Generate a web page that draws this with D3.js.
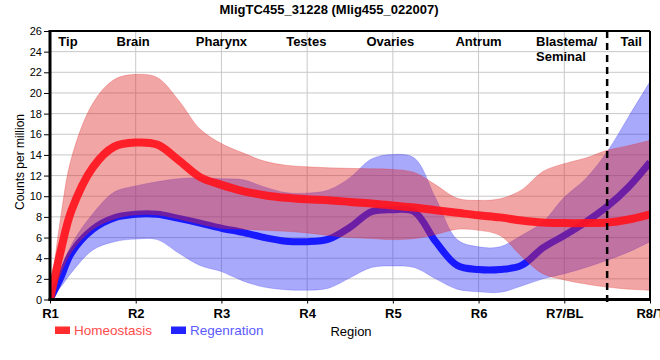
<!DOCTYPE html>
<html>
<head>
<meta charset="utf-8">
<script src="https://cdn.jsdelivr.net/npm/d3@7"></script>
<style>
  html, body { margin: 0; padding: 0; background: #fff; }
  svg { display: block; font-family: "Liberation Sans", Arial, sans-serif; }
</style>
</head>
<body>
<svg id="chart" width="660" height="360"></svg>
<script>
// ---- Data ----
const title = "MligTC455_31228 (Mlig455_022007)";
const xLabels = ["R1", "R2", "R3", "R4", "R5", "R6", "R7/BL", "R8/T"];
const regionNames = ["Tip", "Brain", "Pharynx", "Testes", "Ovaries", "Antrum", "Blastema/|Seminal", "Tail"];
const regionPos = [1.21, 1.97, 3.0, 3.99, 4.97, 6.0, 6.85, 7.78];
const yTicks = [0, 2, 4, 6, 8, 10, 12, 14, 16, 18, 20, 22, 24, 26];
const seriesNames = ["Homeostasis", "Regenration"];

// sample positions along region axis (1 = R1 ... 8 = R8/T)
const pos = [1, 1.125, 1.25, 1.5, 1.75, 2, 2.25, 2.5, 2.75, 3, 3.25, 3.5, 3.75, 4, 4.25, 4.5, 4.75,
             5, 5.25, 5.5, 5.75, 6, 6.25, 6.5, 6.75, 7, 7.25, 7.5, 7.75, 8];

const homeoMean = [0, 4.7, 8.6, 12.8, 14.8, 15.2, 15.0, 13.5, 11.85, 11.1, 10.5, 10.1, 9.85, 9.7, 9.6, 9.45, 9.3,
                   9.1, 8.9, 8.65, 8.4, 8.15, 7.95, 7.65, 7.45, 7.4, 7.4, 7.45, 7.75, 8.25];
const homeoUpper = [0, 8.0, 13.7, 19.0, 21.3, 21.8, 21.5, 19.3, 16.5, 15.1, 14.2, 13.4, 13.0, 12.85, 12.75, 12.7, 12.65,
                    12.6, 12.3, 11.1, 9.8, 9.6, 9.75, 10.6, 12.4, 13.15, 13.7, 14.45, 14.9, 15.4];
const homeoLower = [0, 2.5, 4.6, 6.8, 7.8, 8.2, 8.2, 7.8, 7.3, 6.9, 6.8, 6.7, 6.6, 6.45, 6.2, 6.0, 5.9,
                    5.8, 5.9, 6.3, 6.8, 6.7, 6.2, 4.2, 2.5, 1.9, 1.5, 1.2, 1.0, 0.9];

const regenMean = [0, 2.1, 4.5, 6.8, 7.9, 8.25, 8.25, 7.85, 7.4, 6.9, 6.5, 6.0, 5.65, 5.6, 5.85, 7.0, 8.5,
                   8.7, 8.5, 5.6, 3.3, 2.9, 2.9, 3.3, 5.0, 6.2, 7.5, 9.0, 10.9, 13.3];
const regenUpper = [0, 2.7, 5.3, 8.3, 10.4, 11.0, 11.4, 11.7, 11.8, 11.7, 11.6, 10.9, 10.35, 10.3, 10.6, 11.8, 13.6,
                    14.05, 13.7, 9.8, 5.8, 5.1, 5.1, 6.2, 7.5, 9.9, 11.7, 14.3, 17.7, 21.1];
const regenLower = [0, 1.2, 2.6, 4.8, 5.6, 5.85, 5.8, 4.5, 3.3, 2.7, 1.8, 1.2, 0.95, 0.9, 1.1, 2.1, 3.1,
                    3.25, 3.1, 2.0, 1.0, 0.75, 0.7, 1.3, 2.0, 2.5, 3.1, 3.8, 4.6, 5.6];

const dividerPos = 7.5;

// ---- Drawing ----
const svg = d3.select("#chart");
const pL = 50, pR = 650, pT = 31, pB = 299.5;
const x = d3.scaleLinear().domain([1, 8]).range([pL, pR]);
const y = d3.scaleLinear().domain([0, 26]).range([pB, pT]);

// title
svg.append("text").attr("x", 329).attr("y", 13.5).attr("text-anchor", "middle")
  .attr("font-weight", "bold").attr("font-size", 13).text(title);

// grid
const grid = svg.append("g");
grid.selectAll("line.h").data(yTicks.slice(1)).join("line")
  .attr("x1", pL).attr("x2", pR).attr("y1", d => y(d)).attr("y2", d => y(d))
  .attr("stroke", "#c8c8c8").attr("stroke-width", 1);
grid.selectAll("line.v").data(d3.range(2, 8)).join("line")
  .attr("x1", d => x(d)).attr("x2", d => x(d)).attr("y1", pT).attr("y2", pB)
  .attr("stroke", "#c8c8c8").attr("stroke-width", 1);

svg.append("defs").append("clipPath").attr("id", "clip")
  .append("rect").attr("x", pL).attr("y", pT).attr("width", pR - pL).attr("height", pB - pT);

const plot = svg.append("g").attr("clip-path", "url(#clip)");
const curve = d3.curveCatmullRom.alpha(0.5);

function band(up, lo) {
  return d3.area().x((d, i) => x(pos[i])).y0((d, i) => y(lo[i])).y1((d, i) => y(up[i])).curve(curve)(pos);
}
function line(vals) {
  return d3.line().x((d, i) => x(pos[i])).y((d, i) => y(vals[i])).curve(curve)(pos);
}

// Regeneration band + line
plot.append("path").attr("d", band(regenUpper, regenLower))
  .attr("fill", "rgb(50,50,245)").attr("fill-opacity", 0.42)
  .attr("stroke", "rgb(50,50,245)").attr("stroke-opacity", 0.25).attr("stroke-width", 1);
plot.append("path").attr("d", line(regenMean))
  .attr("fill", "none").attr("stroke", "rgb(25,25,255)").attr("stroke-width", 7)
  .attr("stroke-linecap", "butt");

// Homeostasis band + line
plot.append("path").attr("d", band(homeoUpper, homeoLower))
  .attr("fill", "rgb(225,40,40)").attr("fill-opacity", 0.42)
  .attr("stroke", "rgb(225,40,40)").attr("stroke-opacity", 0.25).attr("stroke-width", 1);
plot.append("path").attr("d", line(homeoMean))
  .attr("fill", "none").attr("stroke", "rgb(255,20,30)").attr("stroke-opacity", 0.92).attr("stroke-width", 8);

// divider
svg.append("line").attr("x1", x(dividerPos)).attr("x2", x(dividerPos)).attr("y1", pT).attr("y2", pB + 5)
  .attr("stroke", "#000").attr("stroke-width", 2.5).attr("stroke-dasharray", "7,5");

// frame
svg.append("line").attr("x1", pL).attr("x2", pR).attr("y1", pT).attr("y2", pT).attr("stroke", "#000").attr("stroke-width", 2);
svg.append("line").attr("x1", pR).attr("x2", pR).attr("y1", pT).attr("y2", pB).attr("stroke", "#000").attr("stroke-width", 2);
svg.append("line").attr("x1", pL).attr("x2", pL).attr("y1", pT - 1).attr("y2", pB + 1.5).attr("stroke", "#000").attr("stroke-width", 3);
svg.append("line").attr("x1", pL - 1.5).attr("x2", pR + 1).attr("y1", pB).attr("y2", pB).attr("stroke", "#000").attr("stroke-width", 3);

// y axis ticks
const yAxis = svg.append("g").attr("transform", `translate(${pL - 1},0)`)
  .call(d3.axisLeft(y).tickValues(yTicks).tickSize(5).tickPadding(2).tickFormat(d3.format("d")));
yAxis.select(".domain").remove();
yAxis.selectAll("text").attr("font-size", 11).attr("font-family", "Liberation Sans, Arial, sans-serif").attr("fill", "#000");
yAxis.selectAll("line").attr("stroke", "#000");

// x axis labels
const xAxis = svg.append("g").attr("transform", `translate(0,${pB + 1})`)
  .call(d3.axisBottom(x).tickValues(d3.range(1, 9)).tickSize(3).tickPadding(5).tickFormat((d, i) => xLabels[i]));
xAxis.select(".domain").remove();
xAxis.selectAll("text").attr("font-size", 13).attr("font-weight", "bold")
  .attr("font-family", "Liberation Sans, Arial, sans-serif").attr("fill", "#000");
xAxis.selectAll("line").attr("stroke", "#000");

// region names
regionNames.forEach((name, i) => {
  const parts = name.split("|");
  const multi = parts.length > 1;
  const t = svg.append("text").attr("font-weight", "bold").attr("font-size", 13)
    .attr("text-anchor", multi ? "start" : "middle")
    .attr("x", multi ? 536 : x(regionPos[i])).attr("y", 46);
  parts.forEach((p, j) => {
    t.append("tspan").attr("x", multi ? 536 : x(regionPos[i])).attr("dy", j === 0 ? 0 : 15).text(p);
  });
});

// y title
svg.append("text").attr("transform", "translate(24,162) rotate(-90)").attr("text-anchor", "middle")
  .attr("font-size", 12).text("Counts per million");

// x title
svg.append("text").attr("x", 351).attr("y", 336).attr("text-anchor", "middle").attr("font-size", 13).text("Region");

// legend
const legendColors = ["rgb(255,45,45)", "rgb(35,35,255)"];
const legendText = ["rgb(255,75,75)", "rgb(90,90,255)"];
const legendX = [55, 171];
seriesNames.forEach((n, i) => {
  svg.append("rect").attr("x", legendX[i]).attr("y", 326.5).attr("width", 15).attr("height", 7.5).attr("fill", legendColors[i]);
  svg.append("text").attr("x", legendX[i] + 19).attr("y", 334.5).attr("font-size", 13.5).attr("fill", legendText[i]).text(n);
});
</script>
</body>
</html>
